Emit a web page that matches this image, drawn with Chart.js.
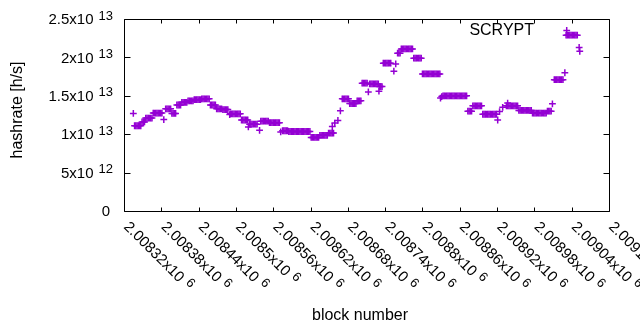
<!DOCTYPE html>
<html><head><meta charset="utf-8">
<script src="https://cdn.jsdelivr.net/npm/chart.js@4/dist/chart.umd.min.js"></script>
<style>html,body{margin:0;padding:0;background:#fff}#wrap{width:640px;height:330px}</style>
</head><body><div id="wrap"><canvas id="c" width="640" height="330"></canvas></div>
<script>
// ---- data (hashrate in units of 1e12 h/s) ----
const blockNumbers = [
  2008335,
  2008337, 2008339, 2008341, 2008343, 2008345, 2008347,
  2008349, 2008351, 2008353,
  2008355, 2008357, 2008359, 2008361, 2008363, 2008365,
  2008367, 2008369, 2008371, 2008373, 2008375, 2008377, 2008379, 2008381,
  2008384,
  2008387, 2008389, 2008391, 2008393, 2008395,
  2008397, 2008399, 2008401, 2008403,
  2008405, 2008407, 2008409, 2008411,
  2008413, 2008415, 2008417, 2008419, 2008421,
  2008423, 2008425, 2008427, 2008429, 2008431,
  2008433, 2008435, 2008437, 2008439, 2008441, 2008443,
  2008445, 2008447, 2008449, 2008451, 2008453, 2008455, 2008457,
  2008459, 2008461, 2008463, 2008465, 2008467,
  2008469, 2008471, 2008473, 2008475, 2008477,
  2008479, 2008481, 2008483, 2008485, 2008487,
  2008490,
  2008491, 2008493, 2008495, 2008497, 2008499, 2008501, 2008503, 2008505, 2008507,
  2008509, 2008511, 2008513, 2008515, 2008517, 2008519,
  2008520,
  2008522, 2008524, 2008526, 2008528, 2008530, 2008532, 2008534,
  2008538,
  2008540, 2008542, 2008544, 2008546, 2008548, 2008550, 2008552,
  2008554, 2008556, 2008558, 2008560, 2008562, 2008564, 2008566, 2008568, 2008570,
  2008572,
  2008575, 2008577, 2008579, 2008581, 2008583,
  2008585, 2008587, 2008589, 2008591, 2008593, 2008595, 2008597, 2008599, 2008601,
  2008603, 2008605, 2008607, 2008609, 2008611, 2008613, 2008615, 2008617, 2008619,
  2008621, 2008623, 2008625, 2008627, 2008629, 2008631, 2008633,
  2008635, 2008637, 2008639, 2008641, 2008643, 2008645, 2008647,
  2008649, 2008651, 2008653, 2008655, 2008657,
  2008655, 2008659, 2008664, 2008668,
  2008671, 2008673, 2008675, 2008677, 2008679, 2008681,
  2008683, 2008685, 2008687, 2008689, 2008691, 2008693,
  2008695, 2008697, 2008699, 2008701,
  2008703, 2008705, 2008707, 2008709, 2008711,
  2008713,
  2008715, 2008717, 2008719, 2008721, 2008723, 2008725, 2008727, 2008729,
  2008730,
  2008731, 2008733, 2008735,
  2008737, 2008739, 2008741, 2008743, 2008745, 2008747, 2008749,
  2008754,
  2008757,
  2008760, 2008762, 2008764,
  2008766, 2008768, 2008770, 2008772, 2008774, 2008776, 2008778, 2008780, 2008782, 2008784,
  2008786, 2008788, 2008790, 2008792, 2008794, 2008796, 2008798,
  2008800, 2008802, 2008804, 2008806, 2008808, 2008810, 2008812, 2008814,
  2008816, 2008818, 2008820, 2008822, 2008824, 2008826, 2008828,
  2008829, 2008831,
  2008833, 2008835, 2008837, 2008839, 2008841, 2008843, 2008845, 2008847, 2008849, 2008851,
  2008853, 2008855, 2008857, 2008859, 2008861, 2008863, 2008865, 2008867, 2008869, 2008871,
  2008873, 2008875, 2008877, 2008879,
  2008881, 2008883, 2008885, 2008887, 2008889, 2008891, 2008893, 2008895,
  2008897, 2008899, 2008901, 2008903, 2008905, 2008907, 2008909, 2008911, 2008913, 2008915, 2008917, 2008919,
  2008921,
  2008924, 2008929, 2008937,
  2008935, 2008937, 2008939, 2008941, 2008943, 2008945, 2008947, 2008949, 2008951, 2008953,
  2008955, 2008957, 2008959, 2008961, 2008963, 2008965, 2008967, 2008969, 2008971, 2008973, 2008975,
  2008977, 2008979, 2008981, 2008983, 2008985, 2008987, 2008989, 2008991, 2008993, 2008995, 2008997, 2008999,
  2009001, 2009003, 2009005, 2009007,
  2009009,
  2009012, 2009014, 2009016, 2009018, 2009020, 2009022, 2009024, 2009026,
  2009029,
  2009032,
  2009031, 2009033, 2009035, 2009037, 2009039, 2009041, 2009043, 2009045, 2009047, 2009049,
  2009052, 2009053
];
const hashrate = [
  12.7,
  11.1, 11.1, 11.1, 11.1, 11.1, 11.1,
  11.6, 11.6, 11.6,
  12.1, 12.1, 12.1, 12.1, 12.1, 12.1,
  12.75, 12.75, 12.75, 12.75, 12.75, 12.75, 12.75, 12.75,
  11.9,
  13.3, 13.3, 13.3, 13.3, 13.3,
  12.7, 12.7, 12.7, 12.7,
  13.8, 13.8, 13.8, 13.8,
  14.15, 14.15, 14.15, 14.15, 14.15,
  14.35, 14.35, 14.35, 14.35, 14.35,
  14.5, 14.5, 14.5, 14.5, 14.5, 14.5,
  14.6, 14.6, 14.6, 14.6, 14.6, 14.6, 14.6,
  13.8, 13.8, 13.8, 13.8, 13.8,
  13.3, 13.3, 13.3, 13.3, 13.3,
  13.2, 13.2, 13.2, 13.2, 13.2,
  12.55,
  12.65, 12.65, 12.65, 12.65, 12.65, 12.65, 12.65, 12.65, 12.65,
  11.85, 11.85, 11.85, 11.85, 11.85, 11.85,
  10.95,
  11.3, 11.3, 11.3, 11.3, 11.3, 11.3, 11.3,
  10.5,
  11.7, 11.7, 11.7, 11.7, 11.7, 11.7, 11.7,
  11.5, 11.5, 11.5, 11.5, 11.5, 11.5, 11.5, 11.5, 11.5,
  10.3,
  10.45, 10.45, 10.45, 10.45, 10.45,
  10.35, 10.35, 10.35, 10.35, 10.35, 10.35, 10.35, 10.35, 10.35,
  10.35, 10.35, 10.35, 10.35, 10.35, 10.35, 10.35, 10.35, 10.35,
  9.58, 9.58, 9.58, 9.58, 9.58, 9.58, 9.58,
  9.85, 9.85, 9.85, 9.85, 9.85, 9.85, 9.85,
  10.15, 10.15, 10.15, 10.15, 10.15,
  11.0, 11.45, 11.8, 13.05,
  14.6, 14.6, 14.6, 14.6, 14.6, 14.6,
  14.0, 14.0, 14.0, 14.0, 14.0, 14.0,
  14.35, 14.35, 14.35, 14.35,
  16.65, 16.65, 16.65, 16.65, 16.65,
  15.5,
  16.55, 16.55, 16.55, 16.55, 16.55, 16.55, 16.55, 16.55,
  15.6,
  16.2, 16.2, 16.2,
  19.25, 19.25, 19.25, 19.25, 19.25, 19.25, 19.25,
  18.2,
  19.15,
  20.55, 20.55, 20.55,
  21.1, 21.1, 21.1, 21.1, 21.1, 21.1, 21.1, 21.1, 21.1, 21.1,
  19.9, 19.9, 19.9, 19.9, 19.9, 19.9, 19.9,
  17.85, 17.85, 17.85, 17.85, 17.85, 17.85, 17.85, 17.85,
  17.85, 17.85, 17.85, 17.85, 17.85, 17.85, 17.85,
  14.7, 14.9,
  15.0, 15.0, 15.0, 15.0, 15.0, 15.0, 15.0, 15.0, 15.0, 15.0,
  15.0, 15.0, 15.0, 15.0, 15.0, 15.0, 15.0, 15.0, 15.0, 15.0,
  13.0, 13.0, 13.0, 13.0,
  13.7, 13.7, 13.7, 13.7, 13.7, 13.7, 13.7, 13.7,
  12.6, 12.6, 12.6, 12.6, 12.6, 12.6, 12.6, 12.6, 12.6, 12.6, 12.6, 12.6,
  11.85,
  12.95, 13.5, 14.05,
  13.7, 13.7, 13.7, 13.7, 13.7, 13.7, 13.7, 13.7, 13.7, 13.7,
  13.1, 13.1, 13.1, 13.1, 13.1, 13.1, 13.1, 13.1, 13.1, 13.1, 13.1,
  12.75, 12.75, 12.75, 12.75, 12.75, 12.75, 12.75, 12.75, 12.75, 12.75, 12.75, 12.75,
  13.0, 13.0, 13.0, 13.0,
  13.95,
  17.1, 17.1, 17.1, 17.1, 17.1, 17.1, 17.1, 17.1,
  18.0,
  23.5,
  22.9, 22.9, 22.9, 22.9, 22.9, 22.9, 22.9, 22.9, 22.9, 22.9,
  21.3, 20.8
];
const seriesName = "SCRYPT";
const xTickValues = [2008320, 2008380, 2008440, 2008500, 2008560, 2008620, 2008680, 2008740, 2008800, 2008860, 2008920, 2008980, 2009040, 2009100];
const xTickMantissa = ["2.00832x10", "2.00838x10", "2.00844x10", "2.0085x10", "2.00856x10", "2.00862x10", "2.00868x10", "2.00874x10", "2.0088x10", "2.00886x10", "2.00892x10", "2.00898x10", "2.00904x10", "2.0091x10"];
const xTickExponent = ["6", "6", "6", "6", "6", "6", "6", "6", "6", "6", "6", "6", "6", "6"];
const yTickValues = [0, 5, 10, 15, 20, 25];
const yTickMantissa = ["0", "5x10", "1x10", "1.5x10", "2x10", "2.5x10"];
const yTickExponent = ["", "12", "13", "13", "13", "13"];
const xTitle = "block number";
const yTitle = "hashrate [h/s]";

const FONT = '"Liberation Sans", Arial, sans-serif';
const COLOR = '#9400d3';

const points = blockNumbers.map((b, i) => ({ x: b, y: hashrate[i] }));

const gnuplotFrame = {
  id: 'gnuplotFrame',
  afterDraw(chart) {
    const ctx = chart.ctx, a = chart.chartArea, xs = chart.scales.x, ys = chart.scales.y;
    const L = Math.round(a.left) + 0.5, R = Math.round(a.right) + 0.5;
    const T = Math.round(a.top) + 0.5, B = Math.round(a.bottom) + 0.5;
    ctx.save();
    ctx.strokeStyle = '#000';
    ctx.lineWidth = 1;
    ctx.beginPath();
    ctx.rect(L, T, R - L, B - T);
    ys.ticks.forEach(t => {
      const py = Math.round(ys.getPixelForValue(t.value)) + 0.5;
      ctx.moveTo(L, py); ctx.lineTo(L + 6, py);
      ctx.moveTo(R, py); ctx.lineTo(R - 6, py);
    });
    xs.ticks.forEach(t => {
      const px = Math.round(xs.getPixelForValue(t.value)) + 0.5;
      ctx.moveTo(px, B); ctx.lineTo(px, B - 4);
      ctx.moveTo(px, T); ctx.lineTo(px, T + 4);
    });
    ctx.stroke();

    ctx.fillStyle = '#000';
    ys.ticks.forEach(t => {
      const i = yTickValues.indexOf(t.value);
      if (i < 0) return;
      const py = ys.getPixelForValue(t.value);
      const exp = yTickExponent[i];
      ctx.textBaseline = 'middle';
      ctx.textAlign = 'right';
      if (!exp) {
        ctx.font = `15px ${FONT}`;
        ctx.fillText(yTickMantissa[i], 110, py + 1);
      } else {
        ctx.font = `13px ${FONT}`;
        const ew = ctx.measureText(exp).width;
        ctx.fillText(exp, 113, py - 3);
        ctx.font = `15px ${FONT}`;
        ctx.fillText(yTickMantissa[i], 113 - ew - 5, py + 1);
      }
    });
    xs.ticks.forEach(t => {
      const i = xTickValues.indexOf(t.value);
      if (i < 0) return;
      const px = xs.getPixelForValue(t.value);
      ctx.save();
      ctx.translate(px + 2, B + 13);
      ctx.rotate(Math.PI / 4);
      ctx.textAlign = 'left';
      ctx.textBaseline = 'middle';
      ctx.font = `15px ${FONT}`;
      ctx.fillText(xTickMantissa[i], 0, 0);
      const mw = ctx.measureText(xTickMantissa[i]).width;
      ctx.font = `13px ${FONT}`;
      ctx.fillText(xTickExponent[i], mw + 5, -4);
      ctx.restore();
    });
    ctx.font = `16px ${FONT}`;
    ctx.textAlign = 'center';
    ctx.textBaseline = 'middle';
    ctx.fillText(xTitle, 360, 316);
    ctx.save();
    ctx.translate(18, 110);
    ctx.rotate(-Math.PI / 2);
    ctx.fillText(yTitle, 0, 0);
    ctx.restore();
    ctx.textAlign = 'right';
    ctx.fillText(seriesName, 534, 31);
    ctx.restore();
  }
};

new Chart(document.getElementById('c'), {
  type: 'scatter',
  data: {
    datasets: [{
      label: seriesName,
      data: points,
      pointStyle: 'cross',
      pointRadius: 3.4,
      pointHoverRadius: 3.4,
      borderWidth: 1.5,
      borderColor: COLOR,
      backgroundColor: COLOR,
      showLine: false
    }]
  },
  options: {
    responsive: false,
    animation: false,
    devicePixelRatio: 1,
    events: [],
    layout: { padding: { left: 124, right: 31, top: 19, bottom: 119 } },
    plugins: { legend: { display: false }, tooltip: { enabled: false }, title: { display: false } },
    scales: {
      x: {
        type: 'linear', min: 2008320, max: 2009100,
        afterBuildTicks: s => { s.ticks = xTickValues.map(v => ({ value: v })); },
        ticks: { display: false },
        grid: { display: false, drawTicks: false },
        border: { display: false },
        title: { display: false }
      },
      y: {
        type: 'linear', min: 0, max: 25,
        afterBuildTicks: s => { s.ticks = yTickValues.map(v => ({ value: v })); },
        ticks: { display: false },
        grid: { display: false, drawTicks: false },
        border: { display: false },
        title: { display: false }
      }
    }
  },
  plugins: [gnuplotFrame]
});
</script>
</body></html>
